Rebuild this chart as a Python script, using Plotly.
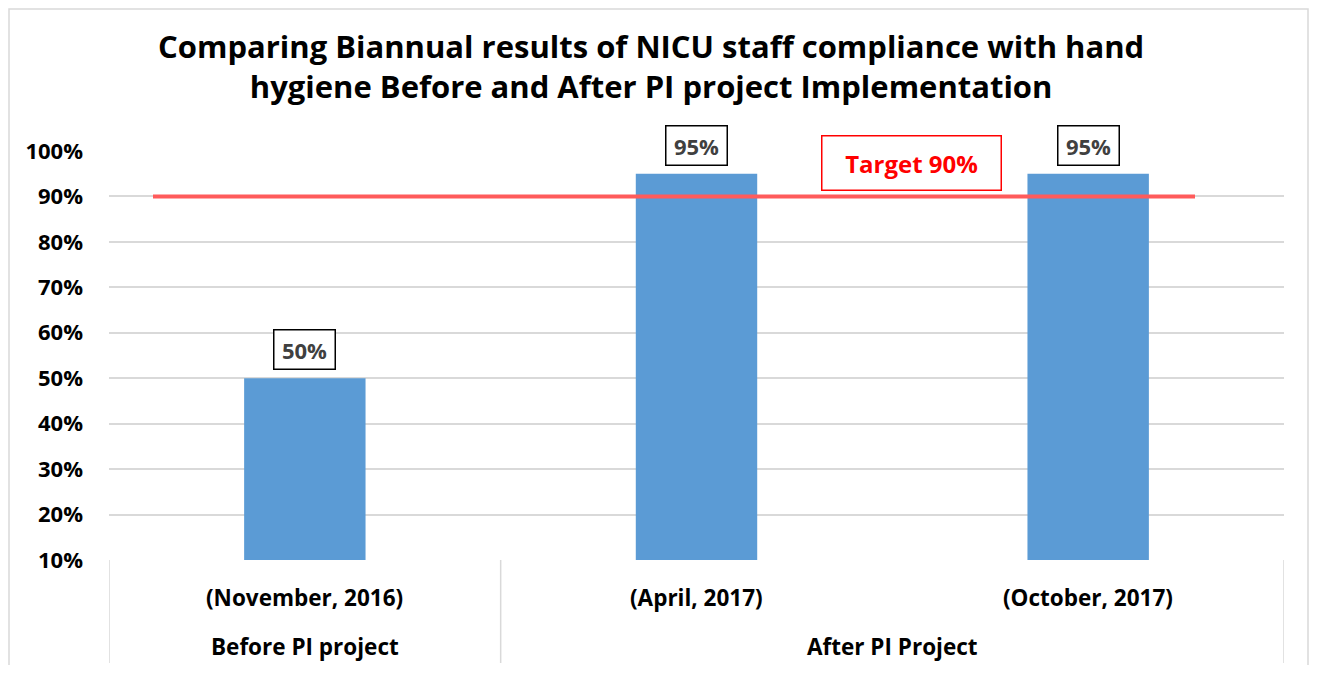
import plotly.graph_objects as go

categories = ["(November, 2016)", "(April, 2017)", "(October, 2017)"]
groups = ["Before PI project", "After PI Project"]
group_members = [[0], [1, 2]]
values = [0.50, 0.95, 0.95]
target = 0.90
target_label = "Target 90%"
title = "Comparing Biannual results of NICU staff compliance with hand<br>hygiene Before and After PI project Implementation"
tick_vals = [0.1, 0.2, 0.3, 0.4, 0.5, 0.6, 0.7, 0.8, 0.9, 1.0]

FONT = "Open Sans"
OFF = 8  # page body margin
W, H = 1317 - 2 * OFF, 673 - 2 * OFF
# plot area in page pixels: x 109..1284, y 151..560
PL, PR, PT, PB = 109, 1284, 151, 560
ML, MT = PL - OFF, PT - OFF
MR, MB = W - (PR - OFF), H - (PB - OFF)
pw = PR - PL
ph = PB - PT

def px_x(x):
    return (x - PL) / pw

def px_y(y):
    return (PB - y) / ph

fig = go.Figure()
fig.add_trace(go.Bar(
    x=list(range(len(categories))), y=values,
    marker=dict(color="#5B9BD5", line=dict(width=0)),
    width=0.31, showlegend=False, hoverinfo="skip",
))

annotations = []
for i, v in enumerate(values):
    annotations.append(dict(
        x=i, y=v, xref="x", yref="y", text=f"<b>{round(v*100)}%</b>",
        showarrow=False, xanchor="center", yanchor="bottom", yshift=8,
        font=dict(family=FONT, size=22, color="#404040"),
        bordercolor="#000000", borderwidth=1.5, borderpad=3,
        width=54, height=32, bgcolor="white",
    ))
for i, c in enumerate(categories):
    annotations.append(dict(
        x=i, y=px_y(597), xref="x", yref="paper", text=f"<b>{c}</b>",
        showarrow=False, xanchor="center", yanchor="middle",
        font=dict(family=FONT, size=22.5, color="#000000"),
    ))
for g, members in zip(groups, group_members):
    annotations.append(dict(
        x=(members[0] + members[-1]) / 2, y=px_y(646), xref="x", yref="paper",
        text=f"<b>{g}</b>", showarrow=False, xanchor="center", yanchor="middle",
        font=dict(family=FONT, size=22.5, color="#000000"),
    ))
annotations.append(dict(
    x=px_x(911), y=px_y(163), xref="paper", yref="paper",
    text=f"<b>{target_label}</b>", showarrow=False,
    xanchor="center", yanchor="middle",
    font=dict(family=FONT, size=24, color="#FF0000"),
    bordercolor="#FF0000", borderwidth=1.5, borderpad=3,
    width=172, height=47, bgcolor="white",
))
annotations.append(dict(
    x=px_x(651), y=px_y(66), xref="paper", yref="paper",
    text=f"<b>{title}</b>", showarrow=False, xanchor="center", yanchor="middle",
    font=dict(family=FONT, size=31, color="#000000"),
))

shapes = [
    dict(type="rect", xref="paper", yref="paper",
         x0=px_x(9), x1=px_x(1308), y0=px_y(700), y1=px_y(9),
         line=dict(color="#D9D9D9", width=1.5), layer="below"),
    dict(type="line", xref="paper", yref="y",
         x0=px_x(153), x1=px_x(1195), y0=target, y1=target,
         line=dict(color="#FF5B5B", width=4)),
]
bounds = [-0.5, group_members[0][-1] + 0.5, len(categories) - 0.5]
for b in bounds:
    shapes.append(dict(type="line", xref="x", yref="paper",
                       x0=b, x1=b, y0=0, y1=px_y(663),
                       line=dict(color="#D9D9D9", width=1.5)))

fig.update_layout(
    width=W, height=H,
    margin=dict(l=ML, r=MR, t=MT, b=MB),
    paper_bgcolor="white", plot_bgcolor="white",
    xaxis=dict(range=[-0.5, len(categories) - 0.5], showticklabels=False,
               showgrid=False, zeroline=False, showline=False, fixedrange=True),
    yaxis=dict(range=[0.1, 1.0], tickvals=tick_vals, tickformat=".0%",
               showgrid=True, gridcolor="#D9D9D9", gridwidth=1.5,
               zeroline=False, showline=False, ticks="", ticklabelstandoff=25,
               tickfont=dict(family=FONT, size=22, color="#000000", weight="bold")),
    annotations=annotations,
    shapes=shapes,
)
fig.write_html("out.html")
